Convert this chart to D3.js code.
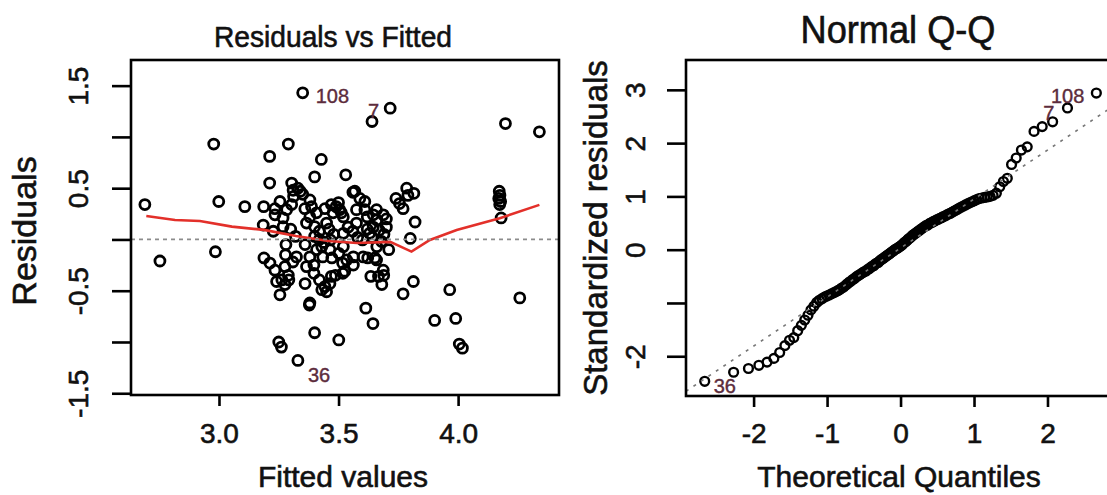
<!DOCTYPE html>
<html>
<head>
<meta charset="utf-8">
<script src="https://cdn.jsdelivr.net/npm/d3@7"></script>
<style>
  body { margin: 0; background: #fff; }
  svg { display: block; font-family: "Liberation Sans", Arial, sans-serif; }
  svg text { stroke: #111; stroke-width: 0.6px; }
  svg text.id { stroke: #5c2c3c; stroke-width: 0.4px; }
</style>
</head>
<body>
<div id="main"></div>
<script>
// ---- data ----

// Residuals vs Fitted: fitted value and residual of each observation
var fittedVals = [
  2.690, 2.753, 2.978, 2.999, 2.985, 3.108, 3.212, 3.290, 3.428, 3.212,
  3.304, 3.400, 3.350, 3.640, 3.716, 4.198, 4.340, 3.530, 4.172, 4.175,
  4.170, 4.178, 4.174, 4.180, 4.258, 3.965, 3.902, 3.990, 4.005, 4.018,
  3.250, 3.261, 3.330, 3.501, 3.400, 3.378, 3.614, 3.644, 3.770, 3.813,
  3.800, 3.820, 3.770, 3.740, 3.785, 3.815, 3.790, 3.755, 3.610, 3.560,
  3.187, 3.234, 3.255, 3.268, 3.283, 3.185, 3.227, 3.304, 3.310, 3.330,
  3.350, 3.312, 3.340, 3.359, 3.387, 3.408, 3.380, 3.366, 3.400, 3.420,
  3.450, 3.490, 3.505, 3.512, 3.477, 3.470, 3.500, 3.520, 3.568, 3.589,
  3.610, 3.645, 3.575, 3.645, 3.670, 3.690, 3.620, 3.660, 3.700, 3.234,
  3.380, 3.443, 3.575, 3.659, 3.687, 3.268, 3.320, 3.400, 3.466, 3.520,
  3.600, 3.630, 3.660, 3.188, 3.234, 3.278, 3.309, 3.241, 3.263, 3.292,
  3.255, 3.360, 3.397, 3.397, 3.420, 3.443, 3.450, 3.487, 3.518, 3.434,
  3.472, 3.501, 3.562, 3.635, 3.667, 3.689, 3.681, 3.622, 3.652, 3.517,
  3.562, 3.276, 3.290, 3.276, 3.324, 3.380, 3.408, 3.430, 3.366, 3.526,
  3.464, 3.520, 3.534, 3.603, 3.659, 3.687, 3.430, 3.464, 3.380, 3.213,
  3.470, 3.420, 3.440, 3.460, 3.480, 3.540, 3.560, 3.580, 3.620, 3.640,
  3.680, 3.700, 3.710, 3.360, 3.300, 3.280
];
var residVals = [
   0.34, -0.21,  0.93,  0.37, -0.12,  0.32,  0.81,  0.93,  0.78,  0.55,
   0.55,  0.61,  1.43,  1.15,  1.28,  1.13,  1.05,  0.63,  0.47,  0.43,
   0.40,  0.37,  0.34,  0.21, -0.57, -0.49, -0.79, -0.77, -1.02, -1.06,
  -1.00, -1.05, -1.18, -0.98, -0.91, -0.64, -0.67, -0.82, -0.53, -0.41,
   0.01,  0.17,  0.30,  0.40,  0.50,  0.45,  0.43,  0.35,  0.37,  0.46,
   0.32,  0.30,  0.37,  0.21,  0.29,  0.14,  0.08,  0.34,  0.48,  0.50,
   0.44,  0.42,  0.47,  0.30,  0.32,  0.26,  0.22,  0.16,  0.125, 0.08,
   0.16,  0.32,  0.29,  0.26,  0.26,  0.34,  0.36,  0.22,  0.47,  0.40,
   0.29,  0.24,  0.16,  0.12,  0.09,  0.05,  0.22,  0.19,  0.12,  0.24,
   0.385, 0.30,  0.29,  0.29,  0.24,  0.125, 0.03,  0.03, -0.005, 0.06,
  -0.005, 0.06, -0.07, -0.18, -0.30, -0.15, -0.22, -0.41, -0.395, -0.395,
  -0.54, -0.43, -0.25, -0.33, -0.395, -0.46, -0.51, -0.35, -0.33, -0.17,
  -0.18, -0.135, -0.17, -0.36, -0.36, -0.35, -0.44, -0.18, -0.18, -0.23,
  -0.25, -0.265, -0.35, -0.44, -0.17, -0.17, -0.10, -0.07, -0.265, -0.31,
  -0.10, -0.07, -0.20, -0.17, -0.20, -0.30, -0.49, -0.43, -0.62, -0.23,
  -0.36,  0.00, -0.03,  0.10,  0.05,  0.12,  0.08,  0.02,  0.10,  0.02,
  -0.02,  0.20, -0.10, -0.05,  0.10, -0.05
];

// red smoother through the residuals
var smoothX = [2.696, 2.816, 2.920, 3.054, 3.188, 3.322, 3.458, 3.576, 3.716, 3.805, 3.882, 3.994, 4.174, 4.340];
var smoothY = [0.229, 0.190, 0.180, 0.125, 0.093, 0.034, -0.015, -0.034, -0.024, -0.119, -0.005, 0.093, 0.207, 0.337];

// labelled observations on the left panel
var residIds = ["108", "7", "36"];
var residIdFitted = [3.350, 3.716, 3.330];
var residIdValue = [1.43, 1.28, -1.18];

// Normal Q-Q: theoretical quantiles and sorted standardized residuals
var qqTheo = [
  -2.665, -2.272, -2.070, -1.928, -1.817, -1.724, -1.645, -1.574, -1.511, -1.453,
  -1.400, -1.350, -1.304, -1.260, -1.219, -1.179, -1.141, -1.105, -1.070, -1.036,
  -1.004, -0.973, -0.942, -0.912, -0.883, -0.855, -0.828, -0.801, -0.775, -0.749,
  -0.724, -0.699, -0.674, -0.650, -0.627, -0.603, -0.580, -0.558, -0.535, -0.513,
  -0.491, -0.470, -0.448, -0.427, -0.406, -0.385, -0.365, -0.344, -0.324, -0.304,
  -0.284, -0.264, -0.244, -0.224, -0.204, -0.184, -0.165, -0.145, -0.126, -0.106,
  -0.087, -0.068, -0.048, -0.029, -0.010,  0.010,  0.029,  0.048,  0.068,  0.087,
   0.106,  0.126,  0.145,  0.165,  0.184,  0.204,  0.224,  0.244,  0.264,  0.284,
   0.304,  0.324,  0.344,  0.365,  0.385,  0.406,  0.427,  0.448,  0.470,  0.491,
   0.513,  0.535,  0.558,  0.580,  0.603,  0.627,  0.650,  0.674,  0.699,  0.724,
   0.749,  0.775,  0.801,  0.828,  0.855,  0.883,  0.912,  0.942,  0.973,  1.004,
   1.036,  1.070,  1.105,  1.141,  1.179,  1.219,  1.260,  1.304,  1.350,  1.400,
   1.453,  1.511,  1.574,  1.645,  1.724,  1.817,  1.928,  2.070,  2.272,  2.665
];
var qqStdRes = [
  -2.47, -2.30, -2.23, -2.17, -2.11, -2.04, -1.93, -1.80, -1.70, -1.65,
  -1.52, -1.42, -1.32, -1.23, -1.13, -1.06, -0.99, -0.95, -0.92, -0.89,
  -0.87, -0.85, -0.83, -0.81, -0.79, -0.77, -0.75, -0.72, -0.70, -0.67,
  -0.64, -0.61, -0.59, -0.56, -0.54, -0.51, -0.49, -0.47, -0.45, -0.43,
  -0.41, -0.40, -0.37, -0.36, -0.33, -0.31, -0.30, -0.27, -0.25, -0.24,
  -0.21, -0.19, -0.17, -0.15, -0.13, -0.11, -0.09, -0.07, -0.05, -0.03,
  -0.01,  0.01,  0.02,  0.04,  0.06,  0.08,  0.10,  0.13,  0.15,  0.17,
   0.20,  0.22,  0.24,  0.27,  0.29,  0.31,  0.33,  0.35,  0.37,  0.39,
   0.41,  0.43,  0.45,  0.46,  0.48,  0.50,  0.51,  0.53,  0.54,  0.56,
   0.57,  0.59,  0.60,  0.62,  0.63,  0.65,  0.67,  0.68,  0.70,  0.72,
   0.74,  0.76,  0.78,  0.80,  0.82,  0.84,  0.86,  0.88,  0.90,  0.92,
   0.94,  0.96,  0.97,  0.98,  0.99,  1.00,  1.02,  1.06,  1.18,  1.28,
   1.34,  1.60,  1.72,  1.87,  1.93,  2.22,  2.31,  2.40,  2.66,  2.94
];
var qqLine = [0.03, 0.92];   // intercept, slope of the dotted reference line

// labelled observations on the Q-Q panel (index into the sorted arrays)
var qqIds = ["108", "7", "36"];
var qqIdIndex = [129, 128, 0];

// ticks
var residTicks = [-1.5, -1, -0.5, 0, 0.5, 1, 1.5];
var residTickLabels = ["-1.5", "", "-0.5", "", "0.5", "", "1.5"];
var fittedTicks = [3.0, 3.5, 4.0];
var fittedTickLabels = ["3.0", "3.5", "4.0"];
var qqYTicks = [-2, -1, 0, 1, 2, 3];
var qqYTickLabels = ["-2", "", "0", "1", "2", "3"];
var qqXTicks = [-2, -1, 0, 1, 2];
var qqXTickLabels = ["-2", "-1", "0", "1", "2"];

// ---- drawing ----
var svg = d3.select("#main")
  .append("svg")
    .attr("width", 1107)
    .attr("height", 495);

var labelColor = "#5c2c3c";

function styleAxis(g, rotate, offset) {
  g.select(".domain").remove();
  g.attr("font-size", 28).attr("font-family", null);
  g.selectAll("line").attr("stroke", "#000").attr("stroke-width", 2.6);
  var t = g.selectAll("text").attr("fill", "#111").attr("dy", null);
  if (rotate) {
    t.attr("transform", "rotate(-90)")
      .attr("x", 0)
      .attr("y", -offset)
      .attr("text-anchor", "middle");
  } else {
    t.attr("y", offset);
  }
}

// Left panel: Residuals vs Fitted
var L = {x0: 131, x1: 559, y0: 60, y1: 395};
var xL = d3.scaleLinear().domain([2.632, 4.422]).range([L.x0, L.x1]);
var yL = d3.scaleLinear().domain([-1.517, 1.75]).range([L.y1, L.y0]);

svg.append("clipPath").attr("id", "clipL")
  .append("rect").attr("x", L.x0).attr("y", L.y0)
  .attr("width", L.x1 - L.x0).attr("height", L.y1 - L.y0);

var gL = svg.append("g").attr("clip-path", "url(#clipL)");

gL.selectAll(".pt")
  .data(d3.zip(fittedVals, residVals))
  .enter()
  .append("circle")
    .attr("class", "pt")
    .attr("cx", function(d) { return xL(d[0]); })
    .attr("cy", function(d) { return yL(d[1]); })
    .attr("r", 5)
    .attr("fill", "none")
    .attr("stroke", "#000")
    .attr("stroke-width", 2.8);

gL.append("path")
  .datum(d3.zip(smoothX, smoothY))
  .attr("fill", "none")
  .attr("stroke", "#e3302a")
  .attr("stroke-width", 2.6)
  .attr("d", d3.line()
    .x(function(d) { return xL(d[0]); })
    .y(function(d) { return yL(d[1]); }));

gL.append("line")
  .attr("x1", L.x0).attr("x2", L.x1)
  .attr("y1", yL(0)).attr("y2", yL(0))
  .attr("stroke", "#8c8c8c")
  .attr("stroke-width", 1.8)
  .attr("stroke-dasharray", "4,4");

svg.append("rect")
  .attr("x", L.x0).attr("y", L.y0)
  .attr("width", L.x1 - L.x0).attr("height", L.y1 - L.y0)
  .attr("fill", "none").attr("stroke", "#000").attr("stroke-width", 2.6);

svg.append("g")
  .attr("transform", "translate(" + L.x0 + ",0)")
  .call(d3.axisLeft(yL).tickValues(residTicks).tickSize(19).tickSizeOuter(0)
    .tickFormat(function(d, i) { return residTickLabels[i]; }))
  .call(styleAxis, true, 43);

svg.append("g")
  .attr("transform", "translate(0," + L.y1 + ")")
  .call(d3.axisBottom(xL).tickValues(fittedTicks).tickSize(11).tickSizeOuter(0)
    .tickFormat(function(d, i) { return fittedTickLabels[i]; }))
  .call(styleAxis, false, 48);

// id labels, left panel
var residIdDx = [13, -11, 10], residIdDy = [10, 10, 22], residIdAnchor = ["start", "end", "start"];
svg.selectAll(".idL")
  .data(residIds)
  .enter()
  .append("text")
    .attr("class", "id idL")
    .attr("x", function(d, i) { return xL(residIdFitted[i]) + residIdDx[i]; })
    .attr("y", function(d, i) { return yL(residIdValue[i]) + residIdDy[i]; })
    .attr("text-anchor", function(d, i) { return residIdAnchor[i]; })
    .attr("font-size", 20)
    .attr("fill", labelColor)
    .text(function(d) { return d; });

svg.append("text")
  .attr("x", 333).attr("y", 47)
  .attr("text-anchor", "middle")
  .attr("font-size", 30)
  .attr("textLength", 238)
  .attr("lengthAdjust", "spacingAndGlyphs")
  .attr("fill", "#111")
  .text("Residuals vs Fitted");

svg.append("text")
  .attr("x", 343).attr("y", 487)
  .attr("text-anchor", "middle")
  .attr("font-size", 30)
  .attr("fill", "#111")
  .text("Fitted values");

svg.append("text")
  .attr("transform", "translate(36,231) rotate(-90)")
  .attr("text-anchor", "middle")
  .attr("font-size", 34)
  .attr("fill", "#111")
  .text("Residuals");

// Right panel: Normal Q-Q
var R = {x0: 686, x1: 1112, y0: 60, y1: 396};
var xR = d3.scaleLinear().domain([-2.92, 2.878]).range([R.x0, R.x1]);
var yR = d3.scaleLinear().domain([-2.746, 3.56]).range([R.y1, R.y0]);

svg.append("clipPath").attr("id", "clipR")
  .append("rect").attr("x", R.x0).attr("y", R.y0)
  .attr("width", R.x1 - R.x0).attr("height", R.y1 - R.y0);

var gR = svg.append("g").attr("clip-path", "url(#clipR)");

gR.selectAll(".qq")
  .data(d3.zip(qqTheo, qqStdRes))
  .enter()
  .append("circle")
    .attr("class", "qq")
    .attr("cx", function(d) { return xR(d[0]); })
    .attr("cy", function(d) { return yR(d[1]); })
    .attr("r", 4.4)
    .attr("fill", "none")
    .attr("stroke", "#000")
    .attr("stroke-width", 2.4);

var qx = xR.domain();
gR.append("line")
  .attr("x1", xR(qx[0])).attr("x2", xR(qx[1]))
  .attr("y1", yR(qqLine[0] + qqLine[1] * qx[0]))
  .attr("y2", yR(qqLine[0] + qqLine[1] * qx[1]))
  .attr("stroke", "#777")
  .attr("stroke-width", 1.6)
  .attr("stroke-dasharray", "3,6");

svg.append("rect")
  .attr("x", R.x0).attr("y", R.y0)
  .attr("width", R.x1 - R.x0).attr("height", R.y1 - R.y0)
  .attr("fill", "none").attr("stroke", "#000").attr("stroke-width", 2.6);

svg.append("g")
  .attr("transform", "translate(" + R.x0 + ",0)")
  .call(d3.axisLeft(yR).tickValues(qqYTicks).tickSize(19).tickSizeOuter(0)
    .tickFormat(function(d, i) { return qqYTickLabels[i]; }))
  .call(styleAxis, true, 41);

svg.append("g")
  .attr("transform", "translate(0," + R.y1 + ")")
  .call(d3.axisBottom(xR).tickValues(qqXTicks).tickSize(11).tickSizeOuter(0)
    .tickFormat(function(d, i) { return qqXTickLabels[i]; }))
  .call(styleAxis, false, 47);

// id labels, Q-Q panel
var qqIdDx = [-12, -13, 9], qqIdDy = [10, 12, 12], qqIdAnchor = ["end", "end", "start"];
svg.selectAll(".idR")
  .data(qqIds)
  .enter()
  .append("text")
    .attr("class", "id idR")
    .attr("x", function(d, i) { return xR(qqTheo[qqIdIndex[i]]) + qqIdDx[i]; })
    .attr("y", function(d, i) { return yR(qqStdRes[qqIdIndex[i]]) + qqIdDy[i]; })
    .attr("text-anchor", function(d, i) { return qqIdAnchor[i]; })
    .attr("font-size", 20)
    .attr("fill", labelColor)
    .text(function(d) { return d; });

svg.append("text")
  .attr("x", 898).attr("y", 43)
  .attr("text-anchor", "middle")
  .attr("font-size", 38)
  .attr("textLength", 195)
  .attr("lengthAdjust", "spacingAndGlyphs")
  .attr("fill", "#111")
  .text("Normal Q-Q");

svg.append("text")
  .attr("x", 899).attr("y", 487)
  .attr("text-anchor", "middle")
  .attr("font-size", 30)
  .attr("fill", "#111")
  .text("Theoretical Quantiles");

svg.append("text")
  .attr("transform", "translate(607,228) rotate(-90)")
  .attr("text-anchor", "middle")
  .attr("font-size", 33)
  .attr("fill", "#111")
  .text("Standardized residuals");
</script>
</body>
</html>
